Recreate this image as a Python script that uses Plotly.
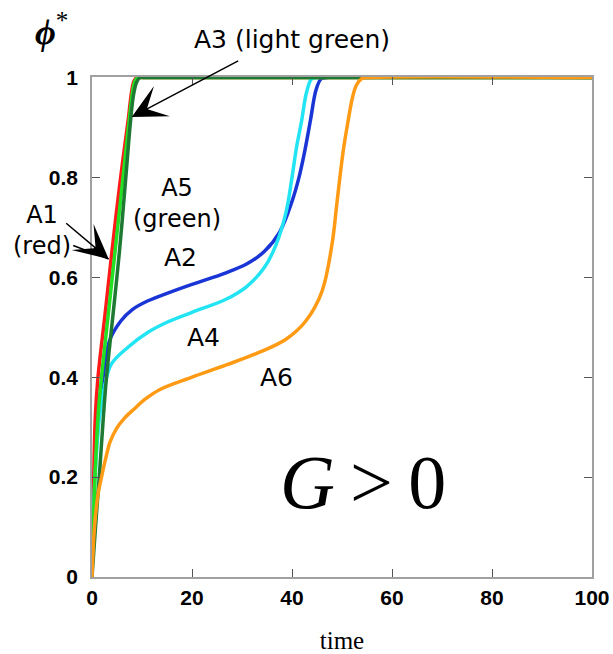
import plotly.graph_objects as go

# ---- data ----
t_A1 = [0, 0.15, 0.35, 0.66, 1.2, 2.6, 4.0, 5.6, 7.3, 7.9, 8.4, 9.0, 10, 100]
phi_A1 = [0, 0.1, 0.2, 0.32, 0.4, 0.525, 0.653, 0.79, 0.92, 0.97, 0.993, 1, 1, 1]

t_A3 = [0, 0.25, 0.6, 1.2, 1.9, 3.3, 4.7, 6.1, 7.5, 8.1, 8.6, 9.2, 10, 100]
phi_A3 = [0, 0.1, 0.2, 0.32, 0.4, 0.53, 0.66, 0.79, 0.92, 0.97, 0.993, 1, 1, 1]

t_A5 = [0, 0.7, 1.45, 2.2, 2.9, 4.2, 5.5, 6.6, 7.7, 8.3, 8.9, 9.6, 10.5, 100]
phi_A5 = [0, 0.1, 0.2, 0.31, 0.4, 0.525, 0.653, 0.78, 0.912, 0.965, 0.99, 1, 1, 1]

t_A2 = [0, 0.15, 0.45, 1.1, 2.2, 3.5, 5.8, 8.0, 11.2, 15, 20, 26.8, 31, 34.5, 37.5,
        40, 41.4, 42.5, 43.7, 44.8, 45.8, 47, 100]
phi_A2 = [0, 0.1, 0.2, 0.32, 0.4, 0.473, 0.513, 0.535, 0.553, 0.568, 0.586, 0.609,
          0.627, 0.652, 0.69, 0.752, 0.8, 0.85, 0.915, 0.975, 0.997, 1, 1]

t_A4 = [0, 0.2, 0.6, 1.5, 2.5, 3.85, 7.2, 11.2, 15, 20, 26.8, 31, 34.5, 36.8, 38.8,
        40.0, 40.9, 41.9, 42.9, 43.9, 45, 100]
phi_A4 = [0, 0.1, 0.2, 0.32, 0.38, 0.426, 0.46, 0.49, 0.51, 0.53, 0.556, 0.582, 0.62,
          0.665, 0.73, 0.8, 0.86, 0.912, 0.97, 0.997, 1, 1]

t_A6 = [0, 0.5, 1.2, 1.9, 2.8, 3.6, 4.9, 6.5, 8.5, 10.5, 13.5, 20, 27, 33.5, 38.8,
        42.8, 46, 48, 49, 50.2, 51.2, 52.1, 52.9, 54, 55.5, 100]
phi_A6 = [0, 0.1, 0.165, 0.2, 0.24, 0.27, 0.297, 0.318, 0.337, 0.355, 0.375, 0.40,
          0.425, 0.45, 0.476, 0.513, 0.572, 0.666, 0.75, 0.85, 0.912, 0.96, 0.985,
          0.998, 1, 1]

x_ticks = [0, 20, 40, 60, 80, 100]
y_ticks = [0, 0.2, 0.4, 0.6, 0.8, 1]
y_tick_labels = ["0", "0.2", "0.4", "0.6", "0.8", "1"]

series = [
    ("A2", t_A2, phi_A2, "#1a35d6"),
    ("A1", t_A1, phi_A1, "#ff1a1a"),
    ("A4", t_A4, phi_A4, "#22e4f2"),
    ("A3", t_A3, phi_A3, "#22e022"),
    ("A5", t_A5, phi_A5, "#1e7a33"),
    ("A6", t_A6, phi_A6, "#ff9a14"),
]

fig = go.Figure()
for name, t, p, c in series:
    fig.add_trace(go.Scatter(x=t, y=p, mode="lines", name=name,
                             line=dict(color=c, width=3.5, shape="spline", smoothing=1.0)))

tick_font = dict(family="Liberation Sans", size=21, color="black", weight="bold")
axis_common = dict(showline=True, linecolor="#a0a0a0", linewidth=1.5, mirror="ticks",
                   ticks="inside", ticklen=8, tickcolor="#555", tickwidth=1.2,
                   showgrid=False, zeroline=False, tickfont=tick_font, automargin=False)

fig.update_xaxes(range=[0, 100], tickvals=x_ticks, ticklabelstandoff=1,
                 title=dict(text="time", font=dict(family="Liberation Serif", size=25, color="black"),
                            standoff=24),
                 **axis_common)
fig.update_yaxes(range=[0, 1.001], tickvals=y_ticks, ticktext=y_tick_labels,
                 ticklabelstandoff=8, **axis_common)

lab_font = dict(family="DejaVu Sans", size=25, color="black")
small_font = dict(family="DejaVu Sans", size=24, color="black")

def txt(s, px, py, font=lab_font):
    fig.add_annotation(text=s, xref="paper", yref="paper", x=px, y=py,
                       showarrow=False, font=font, xanchor="center", yanchor="middle")

txt("A3 (light green)", 0.40, 1.074)
txt("A5<br>(green)", 0.17, 0.748, small_font)
txt("A2", 0.177, 0.64)
txt("A1<br>(red)", -0.10, 0.694, small_font)
txt("A4", 0.223, 0.48)
txt("A6", 0.369, 0.40)
txt("<i>G</i>\u2009>\u20090", 0.541, 0.19,
    font=dict(family="Liberation Serif", size=76, color="black"))
txt("<b><i>ϕ</i></b><sup>*</sup>", -0.082, 1.094,
    font=dict(family="Liberation Serif", size=36, color="black"))

# arrows
fig.add_annotation(text="", xref="paper", yref="paper", x=0.0794, y=0.92,
                   ax=108, ay=-57, showarrow=True, arrowhead=3, arrowsize=3.8,
                   arrowwidth=1.5, arrowcolor="black", standoff=0)
fig.add_annotation(text="", xref="paper", yref="paper", x=0.0334, y=0.636,
                   ax=-44, ay=-37, showarrow=True, arrowhead=3, arrowsize=3.8,
                   arrowwidth=1.5, arrowcolor="black", standoff=0)
fig.add_annotation(text="", xref="paper", yref="paper", x=0.0334, y=0.636,
                   ax=-37, ay=-14, showarrow=True, arrowhead=0,
                   arrowwidth=1.5, arrowcolor="black", standoff=0)

fig.update_layout(width=613, height=654, margin=dict(l=92, r=21, t=77, b=77),
                  plot_bgcolor="white", paper_bgcolor="white", showlegend=False)

# remove the browser's default 8 px body margin so the 613x654 figure fills the window
fig.write_html("out.html", config={"displayModeBar": False},
               post_script="document.body.style.margin='0';")
